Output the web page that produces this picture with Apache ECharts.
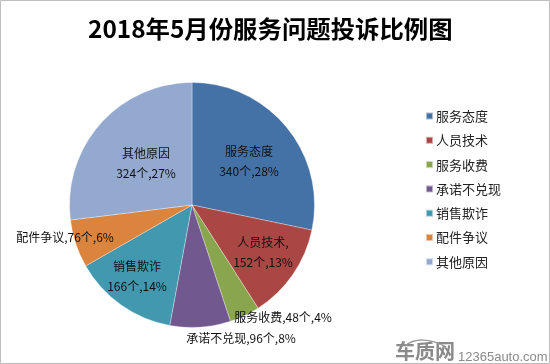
<!DOCTYPE html>
<html><head><meta charset="utf-8">
<style>html,body{margin:0;padding:0;background:#fff}#c{width:550px;height:364px}</style>
<script src="https://cdn.jsdelivr.net/npm/echarts@6/dist/echarts.min.js"></script>
</head><body><div id="c"></div>
<script>
const titleText = '2018年5月份服务问题投诉比例图';
const categories = ['服务态度','人员技术','服务收费','承诺不兑现','销售欺诈','配件争议','其他原因'];
const counts = [340,152,48,96,166,76,324];
const percents = [28,13,4,8,14,6,27];
const colors = ['#4472A6','#AA4643','#89A54E','#71588F','#4198AF','#DB843D','#93A9CF'];
const labelTexts = [
  '服务态度\n340个,28%','人员技术,\n152个,13%','服务收费,48个,4%','承诺不兑现,96个,8%',
  '销售欺诈\n166个,14%','配件争议,76个,6%','其他原因\n324个,27%'
];
const labelSpots = [[249,161],[263,252],[283,317],[241,338],[137,276],[65,237],[146,163]];
const font = '"Noto Sans CJK SC","Noto Sans",sans-serif';
const chart = echarts.init(document.getElementById('c'), null, {renderer:'canvas'});
chart.setOption({
  animation:false,
  backgroundColor:'#fff',
  title:{text:titleText,left:88,top:12,padding:0,textStyle:{fontFamily:font,fontSize:24.4,fontWeight:'bold',color:'#000',lineHeight:34}},
  legend:{orient:'vertical',left:425,top:107,padding:0,itemWidth:7,itemHeight:7,itemGap:6.3,icon:'rect',data:categories,
    textStyle:{fontFamily:font,fontSize:13,color:'#222',lineHeight:18,padding:[0,0,0,-2]}},
  series:[{type:'pie',center:[192,205],radius:[0,122.5],startAngle:90,clockwise:true,
    itemStyle:{borderColor:'rgba(255,255,255,0.55)',borderWidth:0.6},
    label:{show:true,position:'inside',fontFamily:font,fontSize:12,lineHeight:20,color:'#111',
      formatter:p=>labelTexts[p.dataIndex]},
    labelLine:{show:false},
    labelLayout:p=>({x:labelSpots[p.dataIndex][0],y:labelSpots[p.dataIndex][1],align:'center',verticalAlign:'middle'}),
    emphasis:{disabled:true},
    data:categories.map((n,i)=>({name:n,value:counts[i],percent:percents[i],itemStyle:{color:colors[i]}}))
  }],
  graphic:[
    {type:'rect',silent:true,shape:{x:0.5,y:0.5,width:549,height:363},style:{fill:'none',stroke:'#bdbdbd',lineWidth:1},z:100},
    {type:'text',silent:true,style:{x:395,y:341,text:'车质网',font:'bold 20px '+font,fill:'#8a8a8a'},z:100},
    {type:'text',silent:true,style:{x:458,y:351,text:'12365auto.com',font:'13px "Liberation Sans",sans-serif',fill:'#8a8a8a'},z:100},
    {type:'bezierCurve',silent:true,shape:{x1:405,y1:346,cpx1:414,cpy1:338,cpx2:430,cpy2:338,x2:446,y2:347},style:{fill:'none',stroke:'#9a9a9a',lineWidth:1.5},z:100}
  ]
});
</script></body></html>
